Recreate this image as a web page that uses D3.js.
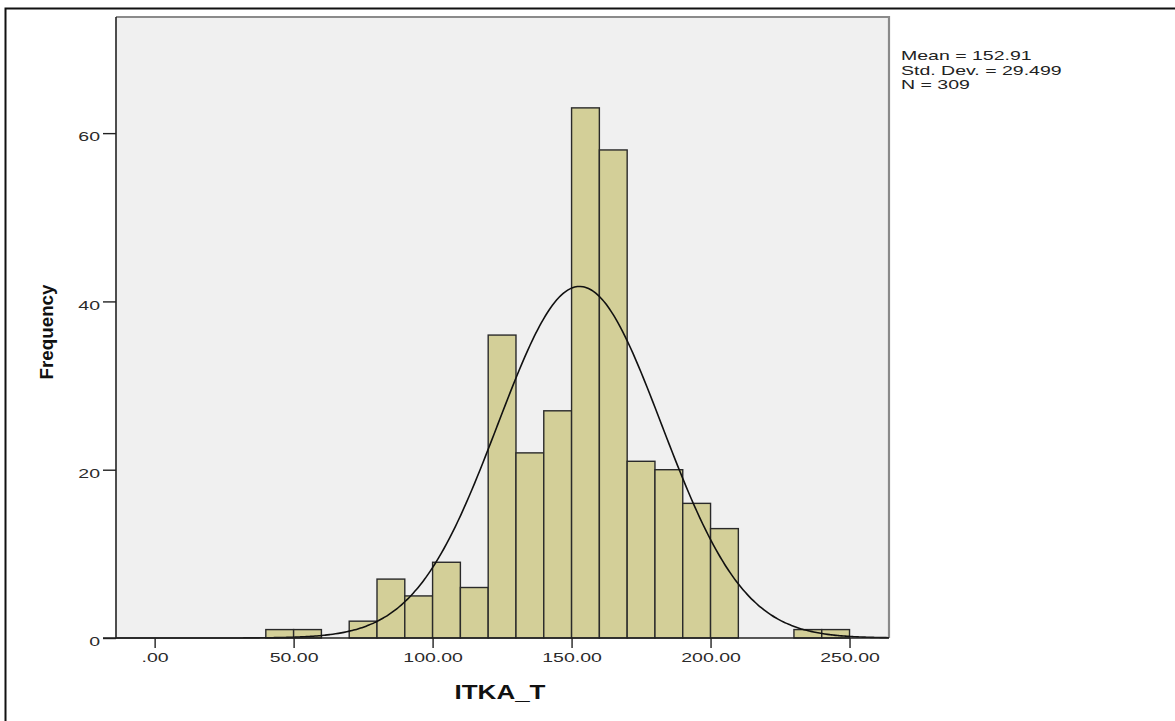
<!DOCTYPE html>
<html>
<head>
<meta charset="utf-8">
<script src="https://cdn.jsdelivr.net/npm/d3@7"></script>
<style>
  html, body { margin: 0; padding: 0; background: #fff; }
  svg { display: block; font-family: "Liberation Sans", Arial, sans-serif; }
</style>
</head>
<body>
<svg id="chart" width="1175" height="721"></svg>
<script>
// ---- Data ----
const binStarts = [40, 50, 60, 70, 80, 90, 100, 110, 120, 130, 140, 150, 160, 170, 180, 190, 200, 210, 220, 230, 240];
const binWidth = 10;
const frequencies = [1, 1, 0, 2, 7, 5, 9, 6, 36, 22, 27, 63, 58, 21, 20, 16, 13, 0, 0, 1, 1];
const xTickValues = [0, 50, 100, 150, 200, 250];
const xTickLabels = [".00", "50.00", "100.00", "150.00", "200.00", "250.00"];
const yTickValues = [0, 20, 40, 60];
const statsLabels = ["Mean = 152.91", "Std. Dev. = 29.499", "N = 309"];
const meanValue = 152.91;
const sdValue = 29.499;
const nValue = 309;
const xLabel = "ITKA_T";
const yLabel = "Frequency";

// ---- Layout ----
const svg = d3.select("#chart");
const plot = { left: 116, right: 889, top: 17, bottom: 638 };
const x = d3.scaleLinear().domain([-13.9, 264.2]).range([plot.left, plot.right]);
const y = d3.scaleLinear().domain([0, 73.8]).range([plot.bottom, plot.top]);
const HS = 1.5; // horizontal stretch of text in the reference

function stretch(sel, factor) {
  sel.each(function () {
    const w = this.getComputedTextLength();
    d3.select(this).attr("textLength", w * factor).attr("lengthAdjust", "spacingAndGlyphs");
  });
}

// Outer frame (top & left visible)
svg.append("path")
  .attr("d", "M5.5,1000 L5.5,8.5 L1200,8.5")
  .attr("fill", "none").attr("stroke", "#111").attr("stroke-width", 2);

// Plot background
svg.append("rect")
  .attr("x", plot.left).attr("y", plot.top)
  .attr("width", plot.right - plot.left).attr("height", plot.bottom - plot.top)
  .attr("fill", "#f0f0f0");

// Top & right border (grey)
svg.append("path")
  .attr("d", `M${plot.left},${plot.top} L${plot.right},${plot.top} L${plot.right},${plot.bottom}`)
  .attr("fill", "none").attr("stroke", "#8a8a8a").attr("stroke-width", 2.2);

// Bars
const bins = binStarts.map((s, i) => ({ x0: s, x1: s + binWidth, f: frequencies[i] }));
svg.append("g").selectAll("rect")
  .data(bins.filter(d => d.f > 0))
  .join("rect")
  .attr("x", d => x(d.x0))
  .attr("y", d => y(d.f))
  .attr("width", d => x(d.x1) - x(d.x0))
  .attr("height", d => y(0) - y(d.f))
  .attr("fill", "#d3cf98")
  .attr("stroke", "#2a2a2a")
  .attr("stroke-width", 1.4);

// Normal curve from the reported statistics
const curvePts = d3.range(x.domain()[0], x.domain()[1] + 0.01, 1).map(v => {
  const z = (v - meanValue) / sdValue;
  return [v, nValue * binWidth / (sdValue * Math.sqrt(2 * Math.PI)) * Math.exp(-0.5 * z * z)];
});
svg.append("path")
  .datum(curvePts)
  .attr("fill", "none")
  .attr("stroke", "#111")
  .attr("stroke-width", 1.6)
  .attr("d", d3.line().x(d => x(d[0])).y(d => y(d[1])).curve(d3.curveBasis));

// X axis
const xAxis = svg.append("g")
  .attr("transform", `translate(0,${plot.bottom})`)
  .call(d3.axisBottom(x).tickValues(xTickValues)
    .tickFormat((d, i) => xTickLabels[i]).tickSize(10).tickPadding(5));
xAxis.select(".domain").remove();
xAxis.selectAll(".tick line").attr("stroke", "#222").attr("stroke-width", 1.4);
xAxis.selectAll(".tick text")
  .attr("font-size", 13).attr("fill", "#2a2a2a")
  .attr("font-family", "Liberation Sans, Arial, sans-serif")
  .call(stretch, HS);

// Y axis
const yAxis = svg.append("g")
  .attr("transform", `translate(${plot.left},0)`)
  .call(d3.axisLeft(y).tickValues(yTickValues).tickSize(13).tickPadding(3));
yAxis.select(".domain").remove();
yAxis.selectAll(".tick line").attr("stroke", "#222").attr("stroke-width", 1.4);
yAxis.selectAll(".tick text")
  .attr("font-size", 13).attr("fill", "#2a2a2a")
  .attr("dy", "0.6em")
  .attr("font-family", "Liberation Sans, Arial, sans-serif")
  .call(stretch, HS);

// Axis lines (left & bottom, dark)
svg.append("line")
  .attr("x1", plot.left).attr("x2", plot.left)
  .attr("y1", plot.top).attr("y2", plot.bottom)
  .attr("stroke", "#222").attr("stroke-width", 1.6);
svg.append("line")
  .attr("x1", plot.left - 13).attr("x2", plot.right)
  .attr("y1", plot.bottom).attr("y2", plot.bottom)
  .attr("stroke", "#222").attr("stroke-width", 1.6);

// Axis titles
svg.append("text")
  .attr("x", 500).attr("y", 699)
  .attr("text-anchor", "middle")
  .attr("font-size", 20).attr("font-weight", "bold").attr("fill", "#111")
  .text(xLabel)
  .call(stretch, 1.3);

svg.append("text")
  .attr("transform", "translate(53,332) rotate(-90)")
  .attr("text-anchor", "middle")
  .attr("font-size", 18).attr("font-weight", "bold").attr("fill", "#111")
  .text(yLabel)
  .attr("textLength", 95).attr("lengthAdjust", "spacingAndGlyphs");

// Statistics text
svg.append("g").selectAll("text")
  .data(statsLabels)
  .join("text")
  .attr("x", 901)
  .attr("y", (d, i) => 60 + i * 14.5)
  .attr("font-size", 13).attr("fill", "#222")
  .text(d => d)
  .call(stretch, HS);
</script>
</body>
</html>
